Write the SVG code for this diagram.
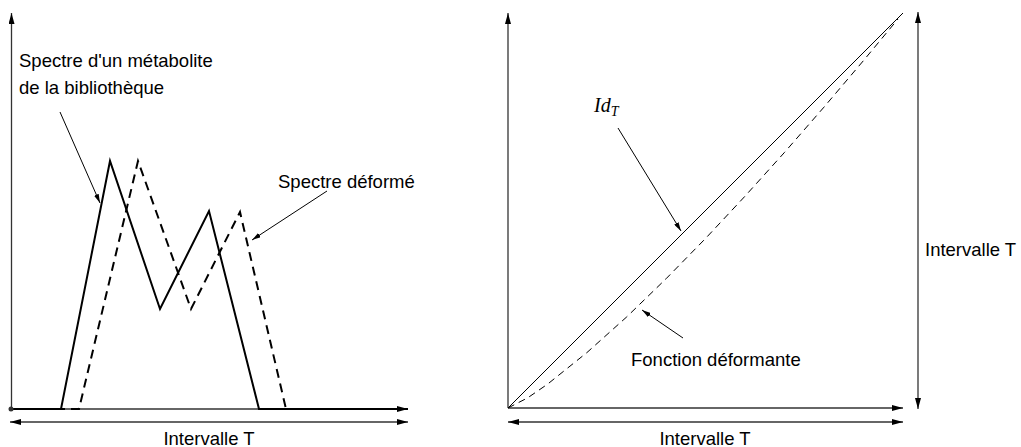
<svg xmlns="http://www.w3.org/2000/svg" width="1021" height="447" viewBox="0 0 1021 447">
<style>
.lbl{font-family:"Liberation Sans",Arial,sans-serif;font-size:18.5px;fill:#000}
.axis{fill:none;stroke:#333;stroke-width:1.3}
.spec{fill:none;stroke:#000;stroke-width:2;stroke-linejoin:miter}
.dash{stroke-dasharray:9 6}
.thin{fill:none;stroke:#000;stroke-width:1}
</style>
<defs>
<marker id="ah" viewBox="0 0 11 6" refX="11" refY="3" markerWidth="11" markerHeight="6" markerUnits="userSpaceOnUse" orient="auto-start-reverse">
<path d="M0,0 L11,3 L0,6 z" fill="#000"/>
</marker>
<marker id="ahs" viewBox="0 0 9 5" refX="9" refY="2.5" markerWidth="9" markerHeight="5" markerUnits="userSpaceOnUse" orient="auto">
<path d="M0,0 L9,2.5 L0,5 z" fill="#000"/>
</marker>
</defs>

<g id="left-panel">
<line class="axis" x1="11.5" y1="409" x2="11.5" y2="13" marker-end="url(#ah)"/>
<line class="axis" x1="11" y1="409" x2="408" y2="409" marker-end="url(#ah)"/>
<polyline class="spec" points="11,409 61,409 110,161 160,309 209,211 259,409 408,409"/>
<polyline class="spec dash" points="11,409 79,409 138,161 191,309 240,212 286,409"/>
<circle cx="11" cy="409" r="2.5" fill="#333"/>
<line class="axis" x1="10" y1="422" x2="408" y2="422" marker-start="url(#ah)" marker-end="url(#ah)"/>
<text class="lbl" x="209" y="445" text-anchor="middle">Intervalle T</text>
</g>

<g id="label-spectre">
<text class="lbl" x="19" y="67">Spectre d'un métabolite</text>
<text class="lbl" x="19" y="94">de la bibliothèque</text>
</g>
<g id="label-deforme">
<text class="lbl" x="278" y="188">Spectre déformé</text>
</g>

<g id="right-panel">
<line class="axis" x1="508" y1="408" x2="508" y2="13" marker-end="url(#ah)"/>
<line class="axis" x1="508" y1="408" x2="903" y2="408" marker-end="url(#ah)"/>
<line class="thin" x1="508" y1="408" x2="903" y2="13"/>
<path class="thin" stroke-dasharray="7 5" d="M508,408 L527.75,397.8 L547.5,384.2 L587,352.5 L626.5,317.1 L666,278.8 L705.5,238.5 L745,196.2 L784.5,152.4 L824,107.1 L863.5,60.6 L898,19"/>
<line class="axis" x1="508" y1="422" x2="903" y2="422" marker-start="url(#ah)" marker-end="url(#ah)"/>
<line class="axis" x1="918" y1="409" x2="918" y2="12" marker-start="url(#ah)" marker-end="url(#ah)"/>
<text class="lbl" x="705" y="445" text-anchor="middle">Intervalle T</text>
<text class="lbl" x="925" y="256">Intervalle T</text>
</g>

<g id="label-idt">
<text x="594" y="112" font-family="Liberation Serif,serif" font-style="italic" font-size="20">Id<tspan font-size="14" dy="3.5">T</tspan></text>
</g>
<g id="label-fonction">
<text class="lbl" x="631" y="366">Fonction déformante</text>
</g>

<g id="connectors">
<line class="thin" x1="60" y1="112" x2="100" y2="203" marker-end="url(#ahs)"/>
<line class="thin" x1="327" y1="191" x2="252" y2="240" marker-end="url(#ahs)"/>
<line class="thin" x1="618" y1="128" x2="681" y2="231" marker-end="url(#ahs)"/>
<line class="thin" x1="683" y1="338" x2="642" y2="310" marker-end="url(#ahs)"/>
</g>
</svg>
